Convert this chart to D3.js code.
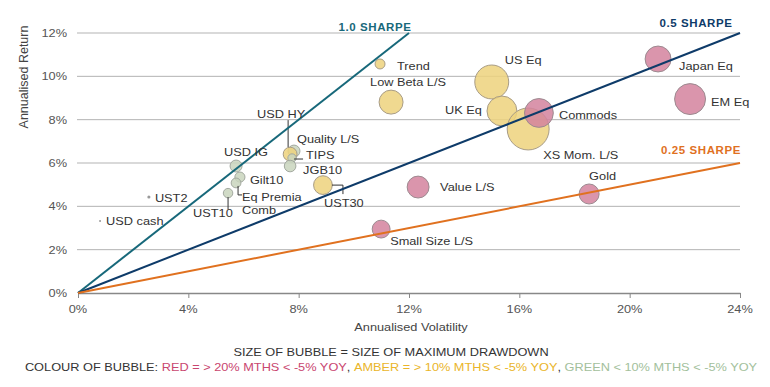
<!DOCTYPE html>
<html><head><meta charset="utf-8">
<script src="https://cdn.jsdelivr.net/npm/d3@7"></script>
<style>
body{margin:0;background:#fff;}
svg{font-family:"Liberation Sans",Arial,Helvetica,sans-serif;}
</style></head>
<body><svg id="c" width="770" height="387"></svg>
<script>
// ---- data ----
const names = ["US Eq","UK Eq","XS Mom. L/S","Commods","Low Beta L/S","Trend","Japan Eq","EM Eq","Gold","Value L/S","Small Size L/S","UST30","Quality L/S","USD HY","TIPS","JGB10","USD IG","Gilt10","Eq Premia Comb","UST10","UST2","USD cash"];
const volatility = [15.0,15.37,16.32,16.71,11.35,10.95,21.03,22.19,18.53,12.33,10.99,8.88,7.83,7.69,7.76,7.69,5.73,5.87,5.73,5.44,2.57,0.8];
const returns = [9.74,8.40,7.57,8.31,8.81,10.57,10.80,8.95,4.57,4.89,2.95,4.98,6.55,6.41,6.23,5.86,5.86,5.35,5.08,4.61,4.43,3.32];
const drawdown = [36,28,55,26,18,3.1,21,30,12.5,15,10,11,4.5,6,2.2,4.2,4.5,3.2,3,2.8,0.3,0.12];
const colourClass = ["amber","amber","amber","red","amber","amber","red","red","red","red","red","amber","green","amber","green","green","green","green","green","green","grey","grey"];
const sharpeRatios = [1.0,0.5,0.25];
const sharpeLabels = ["1.0 SHARPE","0.5 SHARPE","0.25 SHARPE"];
const xTicks = [0,4,8,12,16,20,24];
const yTicks = [0,2,4,6,8,10,12];

// ---- layout (positions/styles) ----
const SX = 1.16; // horizontal stretch of text, as in the reference
const fills = {amber:"#edd27c",red:"#d4839d",green:"#c9d5bd",grey:"#999"};
const strokes = {amber:"#a89c86",red:"#9c8a90",green:"#a3a9a0",grey:"#999"};
const sharpeColours = ["#17687a","#0e3b69","#e0711f"];
const labelPos = {
 "US Eq":[13,-18,"start"],"UK Eq":[-20,3,"end"],"XS Mom. L/S":[15,30,"start"],"Commods":[20,6,"start"],
 "Low Beta L/S":[-21,-16,"start"],"Trend":[17,6,"start"],"Japan Eq":[21,11,"start"],"EM Eq":[21,7,"start"],
 "Gold":[0,-14,"start"],"Value L/S":[22,4,"start"],"Small Size L/S":[9,16,"start"],"UST30":[1,22,"start"],
 "Quality L/S":[3,-8,"start"],"USD HY":[-33,-36,"start"],"TIPS":[14,1,"start"],"JGB10":[13,8,"start"],
 "USD IG":[-12,-10,"start"],"Gilt10":[10,7,"start"],"Eq Premia Comb":[6,18,"start"],"UST10":[-35,24,"start"],
 "UST2":[6,5,"start"],"USD cash":[6,4,"start"]};
const leaders = {
 "UST30":[[9,0],[20,0],[20,9]],
 "USD HY":[[-2,-7],[-2,-34]],
 "TIPS":[[2,1],[11,1]],
 "Eq Premia Comb":[[2,3],[2,12],[6,12]],
 "UST10":[[0,4],[0,16]]};

const svg = d3.select("#c");
const x = d3.scaleLinear().domain([0,24]).range([78,740]);
const y = d3.scaleLinear().domain([0,12]).range([293,33]);
const r = d3.scaleSqrt().domain([0,60]).range([0,21.9]);

function txt(px,py,anchor,size,fill,str){
  const g = svg.append("g").attr("transform",`translate(${px},${py}) scale(${SX},1)`);
  const t = g.append("text").attr("x",0).attr("y",0).attr("text-anchor",anchor).attr("font-size",size).attr("fill",fill);
  if(str!==undefined) t.text(str);
  return t;
}

// gridlines
svg.append("g").selectAll("line").data(yTicks.filter(d=>d>0)).join("line")
 .attr("x1",77).attr("x2",740).attr("y1",d=>y(d)).attr("y2",d=>y(d))
 .attr("stroke","#b3b3b3").attr("stroke-width",1);
// y labels
yTicks.forEach(d=>txt(67,y(d)+4,"end",11,"#555",d+"%"));
// x axis
const xa = svg.append("g").attr("transform","translate(0,293)")
 .call(d3.axisBottom(x).tickValues(xTicks).tickFormat("").tickSize(5).tickSizeOuter(0));
xa.select(".domain").attr("stroke","#888").attr("stroke-width",1.5);
xa.selectAll(".tick line").attr("stroke","#888");
xTicks.forEach(d=>txt(x(d),313,"middle",11,"#555",d+"%"));

// axis titles
txt(411,331,"middle",11,"#444","Annualised Volatility");
svg.append("text").attr("transform","translate(28,77) rotate(-90)").attr("text-anchor","middle").attr("font-size",12.5).attr("fill","#444").text("Annualised Return");

const data = names.map((n,i)=>({name:n,vol:volatility[i],ret:returns[i],dd:drawdown[i],cls:colourClass[i]}));

// bubbles
svg.append("g").selectAll("circle").data(data).join("circle")
 .attr("cx",d=>x(d.vol)).attr("cy",d=>y(d.ret)).attr("r",d=>Math.max(1,r(d.dd)))
 .attr("fill",d=>fills[d.cls]).attr("fill-opacity",d=>d.cls==="grey"?1:0.85)
 .attr("stroke",d=>strokes[d.cls]).attr("stroke-width",d=>d.cls==="grey"?0:1);

// leader lines
data.filter(d=>leaders[d.name]).forEach(d=>{
  const pts = leaders[d.name].map(p=>[x(d.vol)+p[0], y(d.ret)+p[1]]);
  svg.append("path").attr("d",d3.line()(pts)).attr("fill","none").attr("stroke","#333").attr("stroke-width",1);
});

// sharpe lines
sharpeRatios.forEach((s,i)=>{
  const vEnd = Math.min(24, 12/s);
  svg.append("line").attr("x1",x(0)).attr("y1",y(0)).attr("x2",x(vEnd)).attr("y2",y(vEnd*s))
   .attr("stroke",sharpeColours[i]).attr("stroke-width",2);
});
const sharpeLabelPos = [[375,31],[696,27],[701,154]];
sharpeLabels.forEach((t,i)=>{
  svg.append("text").attr("x",sharpeLabelPos[i][0]).attr("y",sharpeLabelPos[i][1]).attr("text-anchor","middle")
   .attr("font-size",11.5).attr("font-weight","bold").attr("letter-spacing",0.6).attr("fill",sharpeColours[i]).text(t);
});

// bubble labels
data.forEach(d=>{
  const p = labelPos[d.name];
  const bx = x(d.vol)+p[0], by = y(d.ret)+p[1];
  if(d.name==="Eq Premia Comb"){
    txt(bx,by,p[2],11,"#333","Eq Premia");
    txt(bx,by+13,p[2],11,"#333","Comb");
  } else txt(bx,by,p[2],11,"#333",d.name);
});

// legend
txt(391,356,"middle",11,"#333","SIZE OF BUBBLE = SIZE OF MAXIMUM DRAWDOWN");
const leg = txt(391,371,"middle",11,"#333");
leg.append("tspan").attr("fill","#333").text("COLOUR OF BUBBLE: ");
leg.append("tspan").attr("fill","#c9466f").text("RED = > 20% MTHS < -5% YOY");
leg.append("tspan").attr("fill","#333").text(", ");
leg.append("tspan").attr("fill","#eab52a").text("AMBER = > 10% MTHS < -5% YOY");
leg.append("tspan").attr("fill","#333").text(", ");
leg.append("tspan").attr("fill","#a3bf9c").text("GREEN < 10% MTHS < -5% YOY");
</script></body></html>
